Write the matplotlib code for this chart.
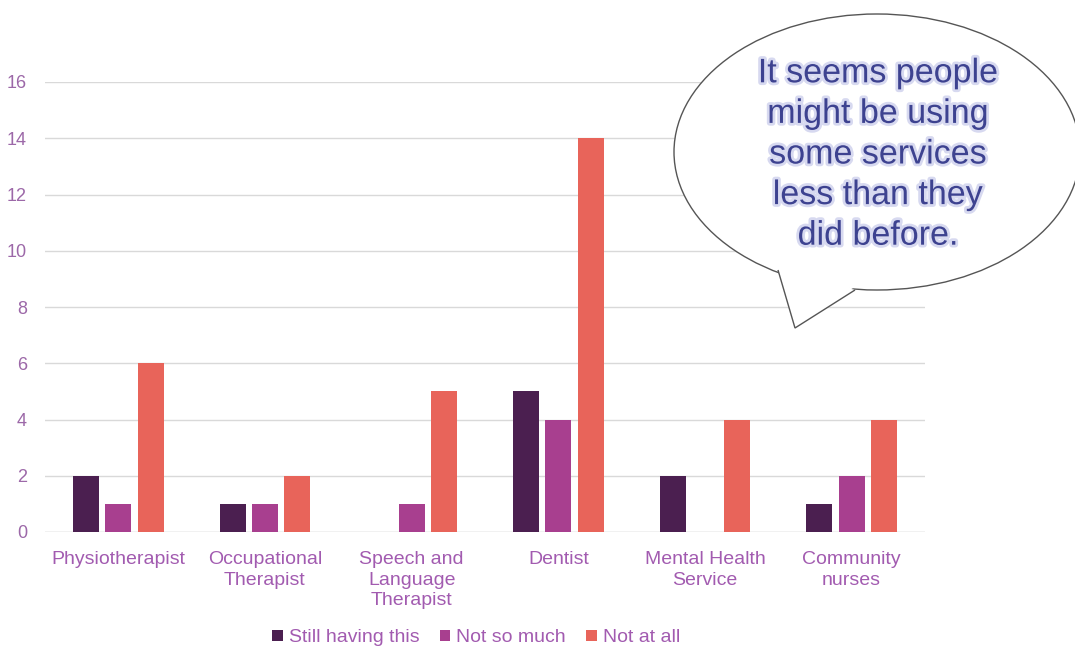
import matplotlib.pyplot as plt
import numpy as np
from matplotlib.patches import Ellipse, Polygon
import matplotlib.patheffects as pe

plt.rcParams['font.family'] = ['Liberation Sans', 'DejaVu Sans']

categories = ['Physiotherapist', 'Occupational\nTherapist', 'Speech and\nLanguage\nTherapist',
              'Dentist', 'Mental Health\nService', 'Community\nnurses']
series_names = ['Still having this', 'Not so much', 'Not at all']
still_having = [2, 1, 0, 5, 2, 1]
not_so_much = [1, 1, 1, 4, 0, 2]
not_at_all = [6, 2, 5, 14, 4, 4]
yticks = [0, 2, 4, 6, 8, 10, 12, 14, 16]

colors = ['#4b1f50', '#a83f8f', '#e8645a']
label_col = '#a25bb0'

fig = plt.figure(figsize=(10.75, 6.5), dpi=100)
ax = fig.add_axes([45 / 1075, 118 / 650, 880 / 1075, 450 / 650])

x = np.arange(len(categories))
w = 0.177
pitch = 0.22
for i, (vals, name) in enumerate(zip([still_having, not_so_much, not_at_all], series_names)):
    ax.bar(x + (i - 1) * pitch, vals, width=w, color=colors[i], label=name, zorder=2)

ax.set_xlim(-0.5, len(categories) - 0.5)
ax.set_ylim(0, 16)
ax.set_yticks(yticks)
ax.grid(axis='y', color='#d9d9d9', linewidth=1, zorder=0)
for s in ax.spines.values():
    s.set_visible(False)
ax.tick_params(axis='both', length=0)
ax.tick_params(axis='y', labelsize=13, labelcolor='#9c68a8', pad=13)
ax.set_xticks(x)
ax.set_xticklabels(categories, fontsize=14, color=label_col, linespacing=1.25)
ax.tick_params(axis='x', pad=14)
ax.axhline(0, color='#d9d9d9', linewidth=1, zorder=1)

leg = fig.legend(loc='center', bbox_to_anchor=(476 / 1075, 1 - 638 / 650), ncol=3, frameon=False,
                 fontsize=14, handlelength=0.55, handleheight=0.55, handletextpad=0.3,
                 columnspacing=1.05)
for t in leg.get_texts():
    t.set_color(label_col)

# speech bubble
ov = fig.add_axes([0, 0, 1, 1])
ov.set_xlim(0, 1075)
ov.set_ylim(650, 0)
ov.axis('off')
ov.add_patch(Polygon([[778, 270], [795, 328], [855, 290]], closed=False,
                     facecolor='white', edgecolor='#555555', linewidth=1, zorder=2))
ov.add_patch(Ellipse((877, 152), 406, 276, facecolor='white', edgecolor='#555555',
                     linewidth=1, zorder=1))
ov.add_patch(Polygon([[779, 268], [796, 325], [853, 288]], closed=True,
                     facecolor='white', edgecolor='none', zorder=3))
ov.text(878, 155, 'It seems people\nmight be using\nsome services\nless than they\ndid before.',
        ha='center', va='center', fontsize=24.5, color='#3d4290', linespacing=1.4, zorder=4,
        path_effects=[pe.withStroke(linewidth=4, foreground='#d7d9f0')])

fig.savefig('out.png', dpi=100)
